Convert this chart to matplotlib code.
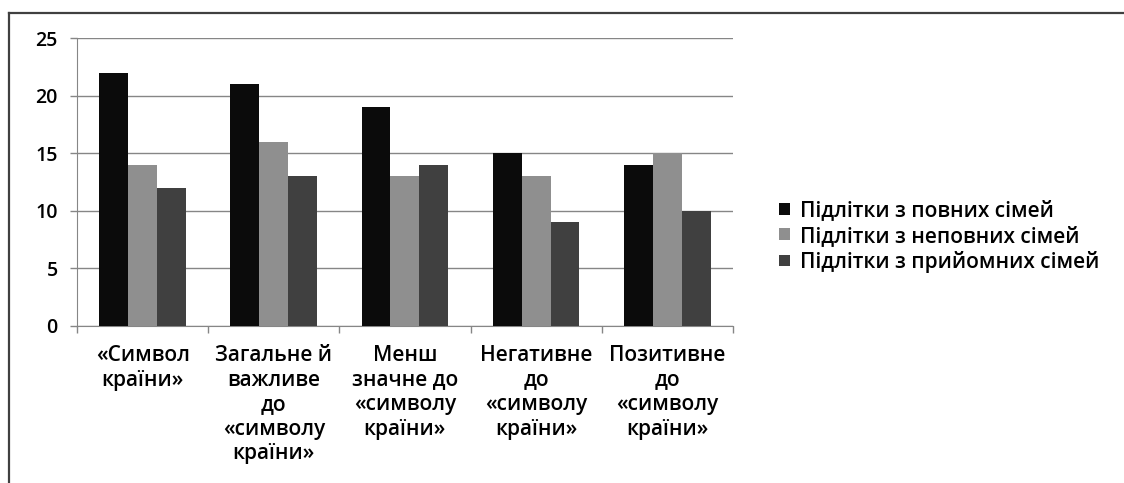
import numpy as np
import matplotlib
matplotlib.use('Agg')
from matplotlib import pyplot as plt
from matplotlib.lines import Line2D

plt.rcParams['font.family'] = ['Open Sans', 'DejaVu Sans']

# дані з діаграми
categories = ['«Символ\nкраїни»',
              'Загальне й\nважливе\nдо\n«символу\nкраїни»',
              'Менш\nзначне до\n«символу\nкраїни»',
              'Негативне\nдо\n«символу\nкраїни»',
              'Позитивне\nдо\n«символу\nкраїни»']
series_names = ['Підлітки з повних сімей',
                'Підлітки з неповних сімей',
                'Підлітки з прийомних сімей']
full_fam = [22, 21, 19, 15, 14]
single_fam = [14, 16, 13, 13, 15]
foster_fam = [12, 13, 14, 9, 10]
y_ticks = [0, 5, 10, 15, 20, 25]

colors = ['#0b0b0b', '#8f8f8f', '#404040']

fig = plt.figure(figsize=(11.24, 4.83), dpi=100)
ax = fig.add_axes([0.0685, 0.326, 0.5835, 0.595])

x = np.arange(len(categories))
w = 0.22
for i, (vals, name) in enumerate(zip([full_fam, single_fam, foster_fam], series_names)):
    ax.bar(x + (i - 1) * w, vals, width=w, color=colors[i], label=name, zorder=3)

ax.set_xlim(-0.5, len(categories) - 0.5)
ax.set_ylim(0, 25)
ax.set_yticks(y_ticks)
ax.grid(axis='y', color='#868686', linewidth=1, zorder=0)
ax.tick_params(axis='y', length=5, width=1, color='#868686', pad=9, labelsize=14)
for t in ax.get_yticklabels():
    t.set_fontweight('semibold')

ax.set_xticks(x)
ax.set_xticklabels(categories, fontsize=15, linespacing=1.22, ha='center', va='top',
                   fontweight='semibold')
ax.tick_params(axis='x', which='major', length=0, pad=14)
ax.set_xticks(np.arange(-0.5, len(categories)), minor=True)
ax.tick_params(axis='x', which='minor', length=5, width=1, color='#868686')

for s in ['top', 'right']:
    ax.spines[s].set_visible(False)
ax.spines['left'].set_color('#868686')
ax.spines['bottom'].set_color('#868686')

leg = fig.legend(loc='center left', bbox_to_anchor=(0.686, 0.51), frameon=False,
                 prop={'size': 15, 'weight': 'semibold'},
                 handlelength=0.5, handleheight=0.5, handletextpad=0.5,
                 labelspacing=0.2, borderaxespad=0)

# рамка
fig.add_artist(Line2D([9 / 1124, 1], [1 - 13 / 483, 1 - 13 / 483], color='#404040', linewidth=1.6))
fig.add_artist(Line2D([9 / 1124, 9 / 1124], [0, 1 - 13 / 483], color='#404040', linewidth=1.6))

fig.savefig('out.png', dpi=100)
